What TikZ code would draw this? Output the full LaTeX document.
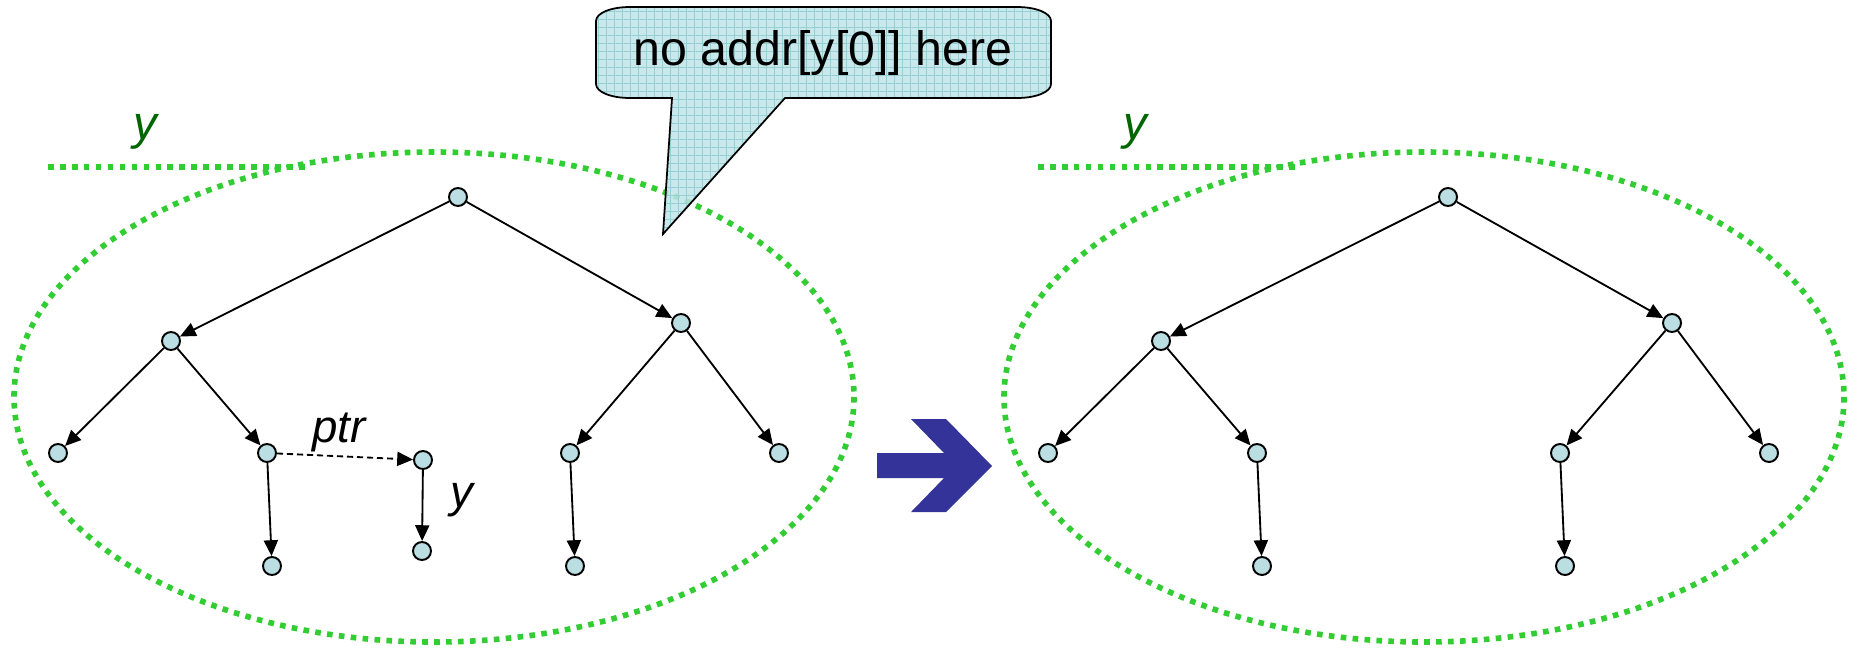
\documentclass[tikz,border=0pt]{standalone}
\usepackage{fontspec}
\setmainfont{Liberation Sans}
\usetikzlibrary{arrows.meta}

\definecolor{nodefill}{RGB}{186,222,226}
\definecolor{ringgreen}{RGB}{50,205,50}
\definecolor{labelgreen}{RGB}{0,102,0}
\definecolor{calloutfill}{RGB}{190,228,231}
\definecolor{calloutgrid}{RGB}{150,208,213}
\definecolor{arrowblue}{RGB}{51,51,153}

% outline of the speech bubble
\newcommand\bubbleoutline{(630,7) -- (1017,7) .. controls (1036,7) and (1051,13) .. (1051,21)
  -- (1051,84) .. controls (1051,92) and (1036,98) .. (1017,98)
  -- (785,98) -- (663,234) -- (672,98) -- (630,98)
  .. controls (611,98) and (596,92) .. (596,84)
  -- (596,21) .. controls (596,13) and (611,7) .. (630,7) -- cycle}

\begin{document}
\begin{tikzpicture}[x=0.02cm,y=-0.02cm,
  vertex/.style={circle,draw=black,line width=1.1pt,fill=nodefill,minimum size=0.36cm,inner sep=0pt},
  link/.style={line width=1.05pt,-{Triangle[length=9pt,width=8pt]}},
  ptrlink/.style={link,dash pattern=on 3.5pt off 2.2pt},
  ring/.style={draw=ringgreen,line width=3.2pt,dash pattern=on 3.2pt off 3.6pt},
  scopelabel/.style={text=labelgreen,font=\fontsize{27}{30}\selectfont\itshape,inner sep=0pt},
  edgelabel/.style={font=\fontsize{26}{30}\selectfont\itshape,inner sep=0pt},
]
\useasboundingbox (0,0) rectangle (1858,647);

% scope regions of y
\draw[ring] (434,397) ellipse [x radius=420, y radius=245];
\draw[ring] (1424,397) ellipse [x radius=420, y radius=245];
\coordinate (la) at (48,167);  \coordinate (lb) at (305,167);
\coordinate (ra) at (1038,167); \coordinate (rb) at (1295,167);
\draw[ring] (la) -- (lb);
\draw[ring] (ra) -- (rb);
\node[scopelabel] (yl) at (145,132) {y};
\node[scopelabel] (yr) at (1135,132) {y};

% speech bubble with a squared fill
\begin{scope}
  \path[clip] \bubbleoutline;
  \fill[calloutfill,fill opacity=0.85] (590,0) rectangle (1060,240);
  \foreach \gx in {598,606,...,1054} \draw[calloutgrid,line width=0.3pt] (\gx,0) -- (\gx,240);
  \foreach \gy in {3,11,...,235} \draw[calloutgrid,line width=0.3pt] (590,\gy) -- (1060,\gy);
\end{scope}
\draw[line width=1pt] \bubbleoutline;
\node[inner sep=0pt] (note) at (823,53) {\fontsize{27.5}{30}\selectfont no addr[y[0]] here};

% left tree
\node[vertex] (A) at (458,197) {};
\node[vertex] (B) at (171,341) {};
\node[vertex] (C) at (681,323) {};
\node[vertex] (D) at (58,453) {};
\node[vertex] (E) at (267,453) {};
\node[vertex] (F) at (272,566) {};
\node[vertex] (G) at (423,460) {};
\node[vertex] (H) at (422,551) {};
\node[vertex] (I) at (570,453) {};
\node[vertex] (J) at (779,453) {};
\node[vertex] (K) at (575,566) {};
\draw[link] (A) -- (B);
\draw[link] (A) -- (C);
\draw[link] (B) -- (D);
\draw[link] (B) -- (E);
\draw[link] (E) -- (F);
\draw[ptrlink] (E) -- (G);
\draw[link] (G) -- (H);
\draw[link] (C) -- (I);
\draw[link] (C) -- (J);
\draw[link] (I) -- (K);
\node[edgelabel] (ptrlab) at (339,432) {ptr};
\node[edgelabel] (ylab) at (462,500) {y};

% transformation arrow
\fill[arrowblue] (877,453) -- (944,453) -- (911,419) -- (946,419) -- (992,466)
  -- (946,512) -- (911,512) -- (944,478) -- (877,478) -- cycle;

% right tree
\node[vertex] (A2) at (1448,197) {};
\node[vertex] (B2) at (1161,341) {};
\node[vertex] (C2) at (1672,323) {};
\node[vertex] (D2) at (1048,453) {};
\node[vertex] (E2) at (1257,453) {};
\node[vertex] (F2) at (1262,566) {};
\node[vertex] (I2) at (1560,453) {};
\node[vertex] (J2) at (1769,453) {};
\node[vertex] (K2) at (1565,566) {};
\draw[link] (A2) -- (B2);
\draw[link] (A2) -- (C2);
\draw[link] (B2) -- (D2);
\draw[link] (B2) -- (E2);
\draw[link] (E2) -- (F2);
\draw[link] (C2) -- (I2);
\draw[link] (C2) -- (J2);
\draw[link] (I2) -- (K2);
\end{tikzpicture}
\end{document}
